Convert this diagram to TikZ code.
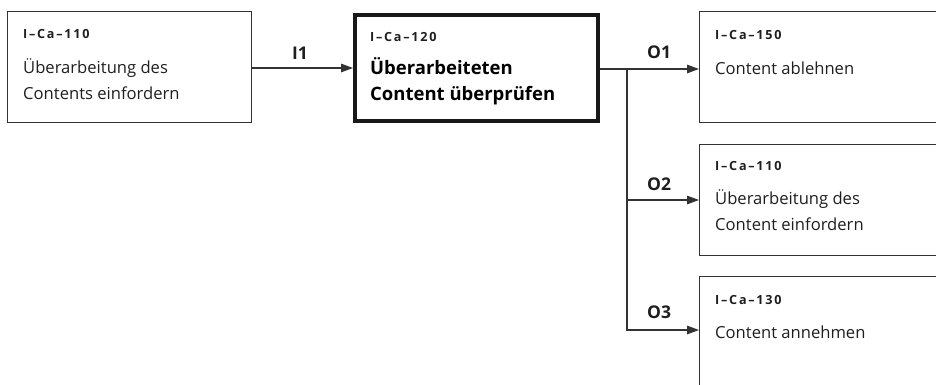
\documentclass[tikz,border=0pt]{standalone}
\usepackage{fontspec}
\setmainfont{Open Sans}
\newfontfamily\lblfont{Open Sans}[LetterSpace=14]
\usetikzlibrary{arrows.meta,positioning}
\definecolor{ln}{HTML}{333333}
\definecolor{tx}{HTML}{1E1E1E}
\tikzset{
  box/.style={draw=ln, line width=1.3pt, anchor=north west, inner sep=0pt},
  mainbox/.style={draw=black!90, line width=4pt, anchor=north west, inner sep=0pt},
  lbl/.style={anchor=base west, inner sep=0pt, text=tx, font=\lblfont\bfseries\fontsize{12.6}{13}\selectfont},
  body/.style={anchor=base west, inner sep=0pt, text=tx, font=\fontsize{16.6}{25.3}\selectfont, align=left},
  title/.style={anchor=base west, inner sep=0pt, text=black, font=\bfseries\fontsize{18.5}{26}\selectfont, align=left},
  io/.style={anchor=base west, inner sep=0pt, text=tx, font=\bfseries\fontsize{17.5}{18}\selectfont},
  conn/.style={draw=ln, line width=1.3pt},
  arr/.style={conn, -{Triangle[length=12pt,width=8.5pt]}}
}
\begin{document}
\begin{tikzpicture}[x=1pt,y=-1pt]
\useasboundingbox (0,0) rectangle (936,384);
% boxes
\node[box, minimum width=244pt, minimum height=111pt] (A) at (7,11) {};
\node[mainbox, minimum width=243pt, minimum height=106pt] (B) at (353,13) {};
\node[box, minimum width=260pt, minimum height=111pt] (R1) at (699,11) {};
\node[box, minimum width=260pt, minimum height=111pt] (R2) at (699,144) {};
\node[box, minimum width=260pt, minimum height=130pt] (R3) at (699,276) {};
% texts (multi-line nodes: base = last line)
\node[lbl] (Al) at (23,38) {I–Ca–110};
\node[body] (At) at (23,99) {Überarbeitung des\\Contents einfordern};
\node[lbl] (Bl) at (370,41) {I–Ca–120};
\node[title] (Bt) at (370,100) {Überarbeiteten\\Content überprüfen};
\node[lbl] (R1l) at (715,39) {I–Ca–150};
\node[body] (R1t) at (715,74) {Content ablehnen};
\node[lbl] (R2l) at (715,170) {I–Ca–110};
\node[body] (R2t) at (715,230) {Überarbeitung des\\Content einfordern};
\node[lbl] (R3l) at (715,304) {I–Ca–130};
\node[body] (R3t) at (715,338) {Content annehmen};
% connectors
\draw[arr] (A.east |- 0,68) -- (B.west |- 0,68);
\node[io] (I1) at (292,59) {I1};
\coordinate (J) at (627,69);
\draw[conn] (B.east |- J) -- (J);
\draw[arr] (J) -- (R1.west |- J);
\draw[arr] (J) |- ([yshift=-56pt]R2.north west);
\draw[arr] (J) |- ([yshift=-54pt]R3.north west);
\node[io] (O1) at (647,58) {O1};
\node[io] (O2) at (647,190) {O2};
\node[io] (O3) at (647,318) {O3};
\end{tikzpicture}
\end{document}
